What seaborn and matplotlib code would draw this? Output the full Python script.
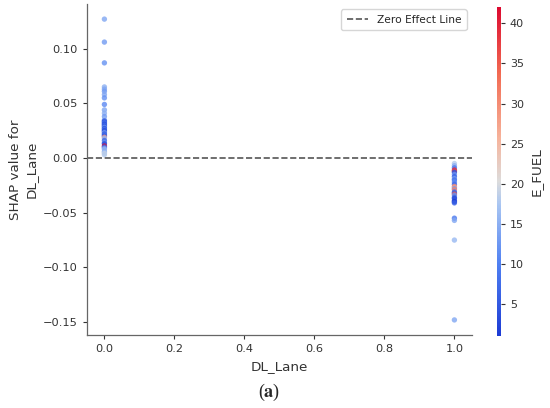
import numpy as np
import pandas as pd
import seaborn as sns
import matplotlib
matplotlib.use("Agg")
import matplotlib.pyplot as plt
from matplotlib.colors import LinearSegmentedColormap

sns.set_style("white")
plt.rcParams['font.family'] = ['DejaVu Sans']
plt.rcParams['mathtext.fontset'] = 'stix'

# DL_Lane = 0 group
shap_lane0 = [0.127, 0.106, 0.087, 0.065, 0.063, 0.061, 0.058, 0.055, 0.049, 0.044,
              0.041, 0.038, 0.035, 0.034, 0.033, 0.032, 0.031, 0.030, 0.029, 0.028,
              0.027, 0.026, 0.025, 0.024, 0.023, 0.022, 0.021, 0.020, 0.019, 0.018,
              0.016, 0.014, 0.013, 0.011, 0.010, 0.009, 0.008, 0.006, 0.005, 0.004, 0.003]
fuel_lane0 = [14, 13, 12, 15, 14, 13, 14, 12, 11, 14,
              15, 13, 16, 6, 4, 9, 3, 7, 5, 12,
              4, 8, 3, 6, 14, 5, 9, 4, 28, 16,
              7, 12, 3, 42, 6, 13, 16, 15, 17, 19, 18]

# DL_Lane = 1 group
shap_lane1 = [-0.005, -0.007, -0.009, -0.011, -0.012, -0.013, -0.015, -0.017, -0.019, -0.020,
              -0.022, -0.024, -0.026, -0.027, -0.028, -0.029, -0.031, -0.032, -0.033, -0.034,
              -0.036, -0.037, -0.039, -0.040, -0.041, -0.055, -0.057, -0.075, -0.148]
fuel_lane1 = [18, 15, 9, 40, 37, 4, 12, 6, 14, 8,
              11, 7, 30, 28, 13, 31, 9, 5, 35, 12,
              7, 3, 4, 1, 6, 9, 14, 16, 14]

df = pd.DataFrame({
    'DL_Lane': [0.0] * len(shap_lane0) + [1.0] * len(shap_lane1),
    'SHAP': shap_lane0 + shap_lane1,
    'E_FUEL': fuel_lane0 + fuel_lane1,
})

# brighter version of coolwarm, as in the figure
cmap = LinearSegmentedColormap.from_list(
    'vivid_coolwarm',
    [(0.0, '#1c3bd4'), (0.22, '#4f80f2'), (0.40, '#a9c6f2'), (0.47, '#dcdcdc'),
     (0.60, '#f6b49c'), (0.80, '#f26a52'), (1.0, '#dc0a30')])

norm = plt.Normalize(df['E_FUEL'].min(), df['E_FUEL'].max())

fig = plt.figure(figsize=(5.5, 4.08), dpi=100)
ax = fig.add_axes([0.158, 0.179, 0.70, 0.811])
cax = fig.add_axes([0.903, 0.176, 0.0075, 0.806])

sns.scatterplot(data=df, x='DL_Lane', y='SHAP', hue='E_FUEL', palette=cmap,
                hue_norm=norm, s=15, alpha=0.8, linewidth=0, legend=False, ax=ax)
ax.axhline(0, color='#555555', linestyle='--', linewidth=1.2, label='Zero Effect Line')

ax.set_xticks([0.0, 0.2, 0.4, 0.6, 0.8, 1.0])
ax.set_yticks([-0.15, -0.10, -0.05, 0.00, 0.05, 0.10])
ax.set_xlabel('DL_Lane', fontsize=9.7, color='#333333')
ax.set_ylabel('SHAP value for\nDL_Lane', fontsize=9.7, color='#333333')
ax.tick_params(axis='both', labelsize=8.2, colors='#333333', length=3, width=0.8, direction='out',
               bottom=True, left=True)
for side in ['top', 'right']:
    ax.spines[side].set_visible(False)
for side in ['left', 'bottom']:
    ax.spines[side].set_color('#666666')
    ax.spines[side].set_linewidth(0.9)

ax.legend(loc='upper right', fontsize=7.7, frameon=True, edgecolor='#cccccc',
          handlelength=2.0, borderpad=0.5)

sm = plt.cm.ScalarMappable(cmap=cmap, norm=norm)
cb = fig.colorbar(sm, cax=cax)
cb.outline.set_visible(False)
cb.set_ticks([5, 10, 15, 20, 25, 30, 35, 40])
cb.ax.tick_params(labelsize=8, colors='#333333', length=3, width=0.8)
cb.set_label('E_FUEL', fontsize=9.7, color='#333333', labelpad=4)

fig.text(0.49, 0.037, r'($\mathbf{a}$)', ha='center', va='center', fontsize=13,
         family='Liberation Serif')

fig.savefig('out.png', dpi=100)
